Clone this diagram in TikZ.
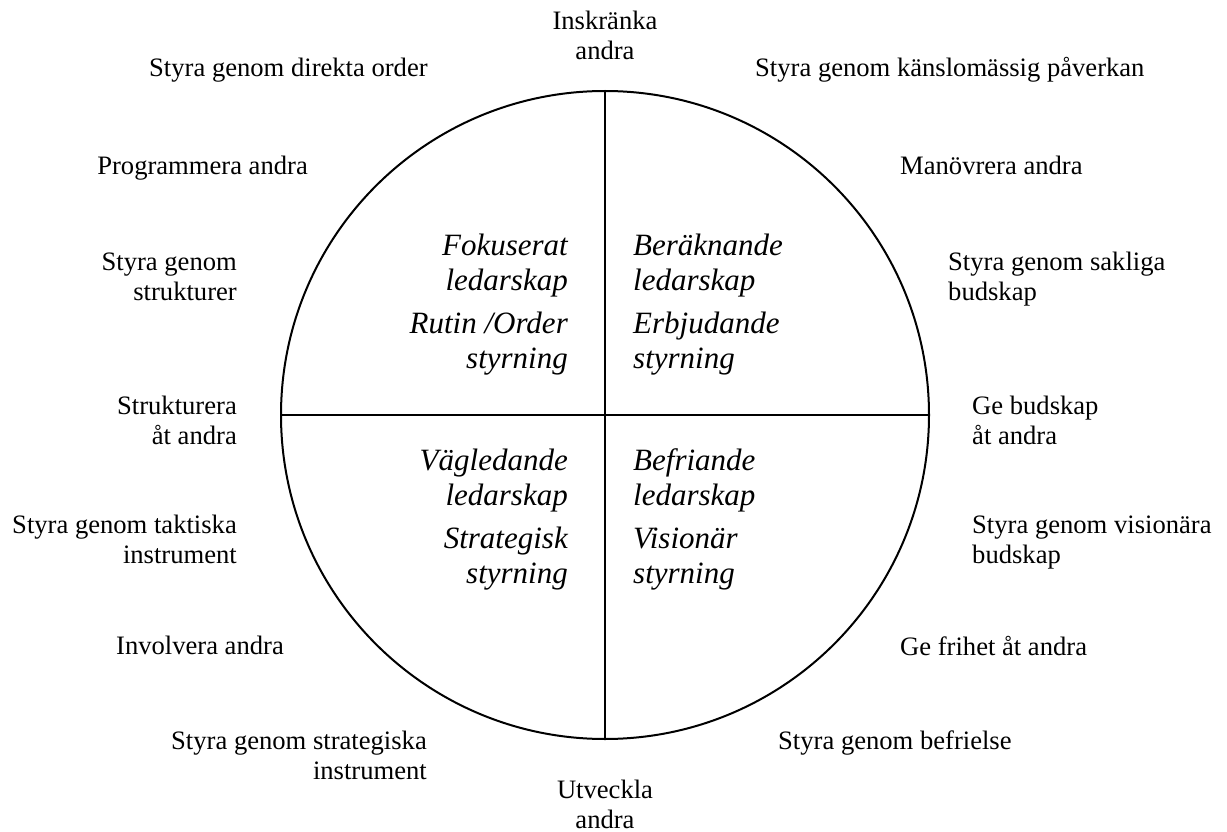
\documentclass[tikz,border=0pt]{standalone}
\usepackage{fontspec}
\setmainfont{Liberation Serif}
\begin{document}
\begin{tikzpicture}[x=1pt,y=-1pt,
  lbl/.style={inner sep=0pt,font=\fontsize{26.6}{30}\selectfont},
  ita/.style={inner sep=0pt,font=\fontsize{31}{36}\selectfont\itshape},
  rim/.style={draw=black,line width=2pt}]
\useasboundingbox (0,0) rectangle (1227,832);
\node[rim,circle,minimum size=648pt,inner sep=0pt] (c) at (605,415) {};
\draw[rim] (c.north) -- (c.south);
\draw[rim] (c.west) -- (c.east);
% outer labels
\node[lbl,anchor=base] (ins1) at (605,30) {Inskränka};
\node[lbl,anchor=base] (ins2) at (605,60) {andra};
\node[lbl,anchor=base west] (dir) at (149,77) {Styra genom direkta order};
\node[lbl,anchor=base west] (kans) at (755,77) {Styra genom känslomässig påverkan};
\node[lbl,anchor=base east] (prog) at (308,175) {Programmera andra};
\node[lbl,anchor=base west] (man) at (900,175) {Manövrera andra};
\node[lbl,anchor=base east] (str1) at (237,270) {Styra genom};
\node[lbl,anchor=base east] (str2) at (237,300) {strukturer};
\node[lbl,anchor=base west] (sak1) at (948,270) {Styra genom sakliga};
\node[lbl,anchor=base west] (sak2) at (948,300) {budskap};
\node[lbl,anchor=base east] (sa1) at (237,414) {Strukturera};
\node[lbl,anchor=base east] (sa2) at (237,444) {åt andra};
\node[lbl,anchor=base west] (gb1) at (972,414) {Ge budskap};
\node[lbl,anchor=base west] (gb2) at (972,444) {åt andra};
\node[lbl,anchor=base east] (tak1) at (237,533) {Styra genom taktiska};
\node[lbl,anchor=base east] (tak2) at (237,563) {instrument};
\node[lbl,anchor=base west] (vis1) at (972,533) {Styra genom visionära};
\node[lbl,anchor=base west] (vis2) at (972,563) {budskap};
\node[lbl,anchor=base east] (inv) at (284,654) {Involvera andra};
\node[lbl,anchor=base west] (fri) at (900,655) {Ge frihet åt andra};
\node[lbl,anchor=base east] (strat1) at (427,749) {Styra genom strategiska};
\node[lbl,anchor=base east] (strat2) at (427,779) {instrument};
\node[lbl,anchor=base west] (bef) at (778,749) {Styra genom befrielse};
\node[lbl,anchor=base] (utv1) at (605,798) {Utveckla};
\node[lbl,anchor=base] (utv2) at (605,828) {andra};
% inner italic labels
\node[ita,anchor=base east] (fok1) at (568,255) {Fokuserat};
\node[ita,anchor=base east] (fok2) at (568,290) {ledarskap};
\node[ita,anchor=base east] (rut1) at (568,333) {Rutin /Order};
\node[ita,anchor=base east] (rut2) at (568,368) {styrning};
\node[ita,anchor=base west] (ber1) at (633,255) {Beräknande};
\node[ita,anchor=base west] (ber2) at (633,290) {ledarskap};
\node[ita,anchor=base west] (erb1) at (633,333) {Erbjudande};
\node[ita,anchor=base west] (erb2) at (633,368) {styrning};
\node[ita,anchor=base east] (vag1) at (568,470) {Vägledande};
\node[ita,anchor=base east] (vag2) at (568,505) {ledarskap};
\node[ita,anchor=base east] (sts1) at (568,548) {Strategisk};
\node[ita,anchor=base east] (sts2) at (568,583) {styrning};
\node[ita,anchor=base west] (bfr1) at (633,470) {Befriande};
\node[ita,anchor=base west] (bfr2) at (633,505) {ledarskap};
\node[ita,anchor=base west] (vsn1) at (633,548) {Visionär};
\node[ita,anchor=base west] (vsn2) at (633,583) {styrning};
\end{tikzpicture}
\end{document}
